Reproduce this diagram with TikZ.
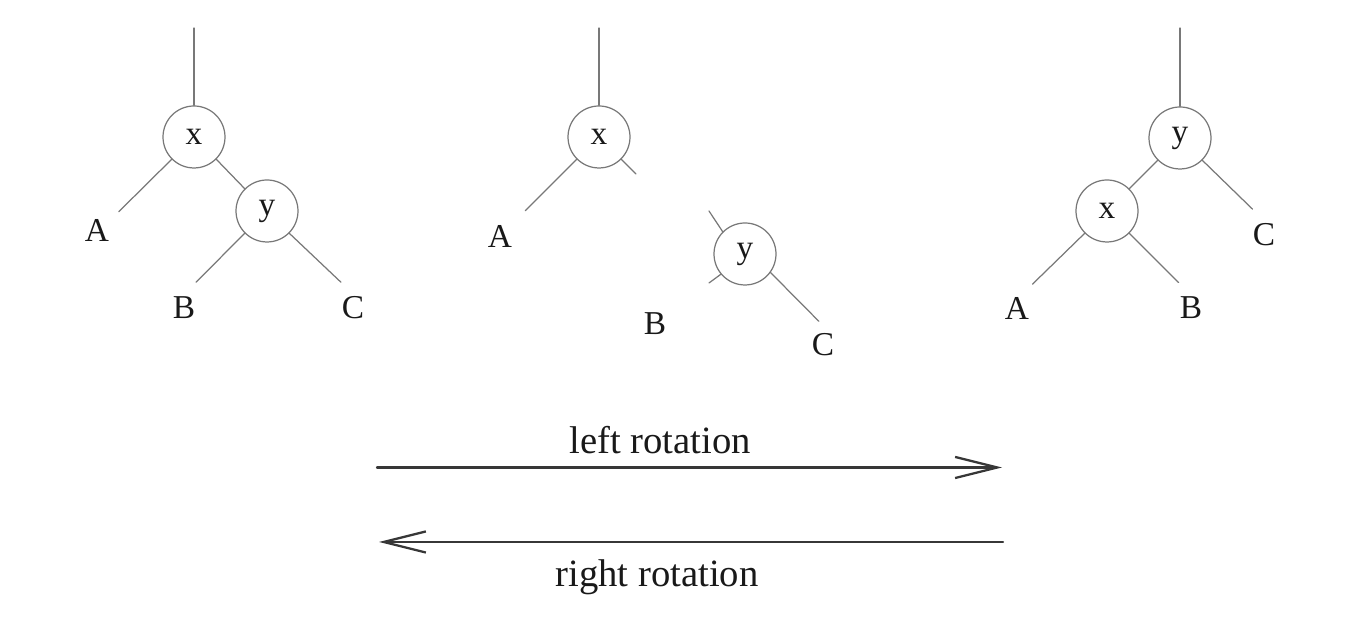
\documentclass[tikz,border=0pt]{standalone}
\usepackage{fontspec}
\setmainfont{Liberation Serif}
\usetikzlibrary{arrows.meta}

\definecolor{colorrama}{RGB}{120,120,120}
\definecolor{colorflecha}{RGB}{55,55,55}
\definecolor{colortexto}{RGB}{25,25,25}

\begin{document}
\begin{tikzpicture}[line cap=round, line join=round, x=0.02cm, y=0.02cm,
	nodo/.style={circle, draw=colorrama, line width=0.7pt, minimum size=1.24cm, inner sep=0pt, text=colortexto, font=\fontsize{19}{22}\selectfont},
	hoja/.style={circle, minimum size=1.12cm, inner sep=0pt, text=colortexto, font=\fontsize{19}{22}\selectfont},
	rama/.style={draw=colorrama, line width=0.7pt},
	flecha/.style={draw=colorflecha, line width=1.3pt, -{Straight Barb[length=24pt, width=12pt, line width=1.3pt]}},
	rotulo/.style={text=colortexto, font=\fontsize{22}{26}\selectfont}]
		
		% Ventana de dibujo
		\useasboundingbox (0,0) rectangle (1357,617);
		
		% Arbol izquierdo: x arriba, y como hijo derecho
		\coordinate (r1) at (194,589);
		\node [nodo] (x1) at (194,480) {x};
		\node [nodo] (y1) at (267,406) {y};
		\node [hoja] (A1) at (97,387) {A};
		\node [hoja] (B1) at (184,309) {B};
		\node [hoja] (C1) at (353,309) {C};
		\draw [rama] (r1) -- (x1);
		\draw [rama] (x1.-135) -- (A1.40);
		\draw [rama] (x1.-45) -- (y1.135);
		\draw [rama] (y1.-135) -- (B1.65);
		\draw [rama] (y1.-45) -- (C1.115);
		
		% Arbol central: ramas cortadas durante la rotacion
		\coordinate (r2) at (599,589);
		\coordinate (x2r) at (636,443);
		\coordinate (y2a) at (709,406);
		\coordinate (y2b) at (709,334);
		\node [nodo] (x2) at (599,480) {x};
		\node [nodo] (y2) at (745,363) {y};
		\node [hoja, minimum size=1.42cm] (A2) at (500,381) {A};
		\node [hoja] (B2) at (655,293) {B};
		\node [hoja, minimum size=0.95cm] (C2) at (823,272) {C};
		\draw [rama] (r2) -- (x2);
		\draw [rama] (x2.-135) -- (A2.45);
		\draw [rama] (x2.-45) -- (x2r);
		\draw [rama] (y2.135) -- (y2a);
		\draw [rama] (y2.-140) -- (y2b);
		\draw [rama] (y2.-36) -- (C2.100);
		
		% Arbol derecho: y arriba, x como hijo izquierdo
		\coordinate (r3) at (1180,589);
		\node [nodo] (y3) at (1180,479) {y};
		\node [nodo] (x3) at (1107,406) {x};
		\node [hoja] (A3) at (1017,309) {A};
		\node [hoja] (B3) at (1191,309) {B};
		\node [hoja] (C3) at (1264,382) {C};
		\draw [rama] (r3) -- (y3);
		\draw [rama] (y3.-135) -- (x3.45);
		\draw [rama] (y3.-45) -- (C3.114);
		\draw [rama] (x3.-135) -- (A3.57);
		\draw [rama] (x3.-45) -- (B3.116);
		
		% Flechas de rotacion
		\coordinate (p1) at (377,149.5);
		\coordinate (p2) at (1002,149.5);
		\coordinate (q1) at (1003,75);
		\coordinate (q2) at (379,75);
		\draw [flecha] (p1) -- (p2);
		\draw [flecha] (q1) -- (q2);
		\node [rotulo] (izq) at (660,177) {left rotation};
		\node [rotulo] (der) at (657,39.5) {right rotation};
		
	\end{tikzpicture}
\end{document}
